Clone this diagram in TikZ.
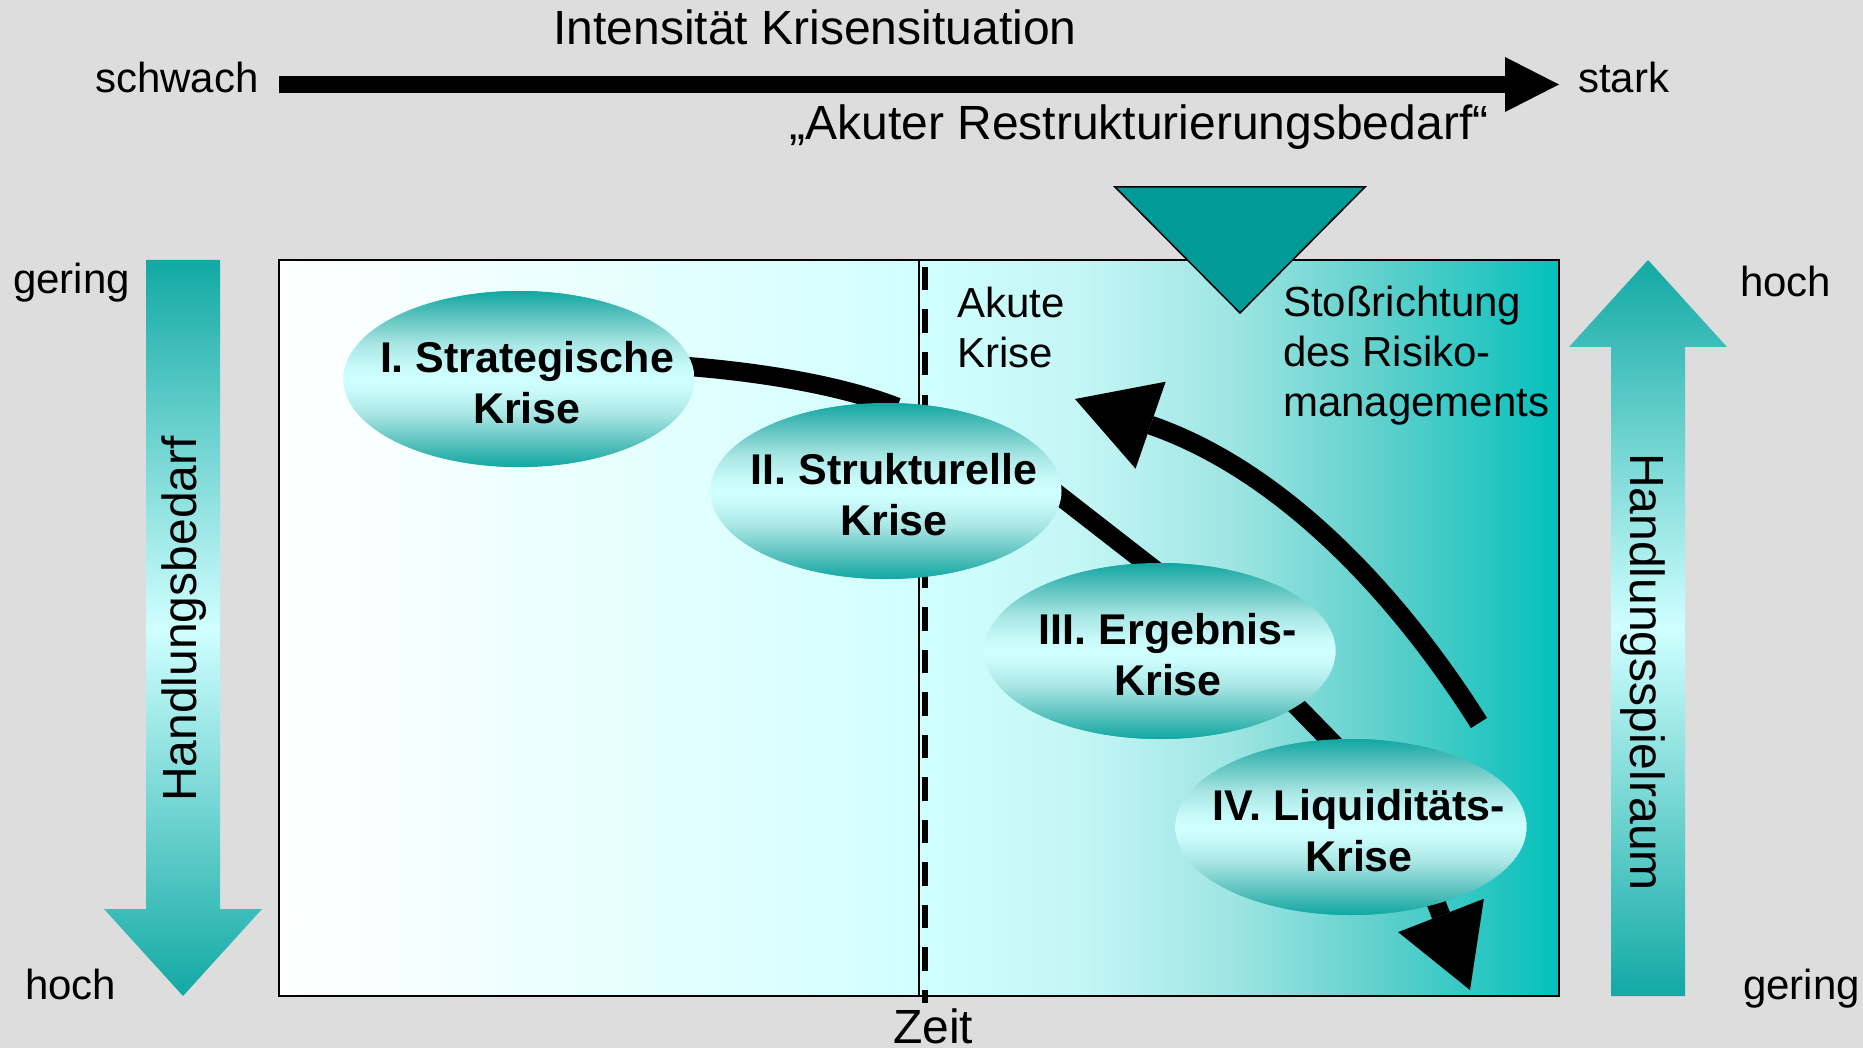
\documentclass[tikz,border=0pt]{standalone}
\usepackage{fontspec}
\setmainfont{Liberation Sans}
\usetikzlibrary{arrows.meta,shapes.geometric}

\definecolor{bggray}{HTML}{DDDDDD}
\definecolor{tealdark}{HTML}{009A97}
\definecolor{tealmid}{HTML}{12A9A4}
\definecolor{icecyan}{HTML}{D0FFFF}
\definecolor{boxA}{HTML}{D6FFFF}
\definecolor{boxB}{HTML}{C4F6F6}
\definecolor{boxC}{HTML}{A0E6E4}
\definecolor{boxD}{HTML}{60D0CC}
\definecolor{boxE}{HTML}{04C0BB}
\definecolor{ellA}{HTML}{10A8A2}
\definecolor{ellB}{HTML}{52BEBA}
\definecolor{ellC}{HTML}{A8E6E4}
\definecolor{ellD}{HTML}{CAFBFB}

% field: white on the left, ice cyan in the middle, teal on the right
\pgfdeclarehorizontalshading{fieldshade}{100bp}{%
  color(0bp)=(white); color(25bp)=(white); color(47.5bp)=(boxA);
  color(50bp)=(icecyan); color(56.25bp)=(boxB); color(62bp)=(boxC);
  color(68bp)=(boxD); color(75bp)=(boxE); color(100bp)=(boxE)}
% crisis bubbles: teal rim, light core
\pgfdeclareverticalshading{bubbleshade}{100bp}{%
  color(0bp)=(ellA); color(25bp)=(ellA); color(31bp)=(ellB);
  color(40bp)=(ellC); color(47bp)=(ellD); color(50bp)=(icecyan);
  color(53bp)=(ellD); color(60bp)=(ellC); color(69bp)=(ellB);
  color(75bp)=(ellA); color(100bp)=(ellA)}
% side scales
\pgfdeclareverticalshading{scaleshade}{100bp}{%
  color(0bp)=(tealmid); color(25bp)=(tealmid); color(50bp)=(icecyan);
  color(75bp)=(tealmid); color(100bp)=(tealmid)}

\tikzset{
  lbl/.style={inner sep=0pt, font=\fontsize{42}{50}\selectfont},
  bigtxt/.style={inner sep=0pt, font=\fontsize{48}{58}\selectfont},
  bubble/.style={ellipse, shading=bubbleshade, minimum width=351pt,
    minimum height=176pt, inner sep=0pt},
  bubbletxt/.style={inner sep=0pt, align=center, xshift=8pt, yshift=-4pt,
    font=\fontsize{43}{51}\selectfont\bfseries},
  conn/.style={line width=19pt, black},
  bigtip/.style={-{Triangle[length=80pt,width=92pt,line width=0pt]}}
}

\begin{document}
\begin{tikzpicture}[x=1pt,y=-1pt]
  % canvas
  \useasboundingbox (0,0) rectangle (1863,1048);
  \fill[bggray] (0,0) rectangle (1863,1048);

  % intensity axis
  \node[bigtxt, anchor=base] (title) at (815,45) {Intensität Krisensituation};
  \node[lbl, anchor=base west] (schwach) at (95,93) {schwach};
  \node[lbl, anchor=base west] (stark) at (1578,93) {stark};
  \coordinate (axisL) at (279,84.5);
  \coordinate (axisR) at (1559,84.5);
  \draw[line width=17pt, -{Triangle[length=54pt,width=55pt,line width=0pt]}] (axisL) -- (axisR);
  \node[bigtxt, anchor=base] (akut) at (1139,140) {„Akuter Restrukturierungsbedarf“};

  % left scale: Handlungsbedarf
  \path[shading=scaleshade] (146,260) -- (220,260) -- (220,909) -- (262,909)
        -- (183,996) -- (104,909) -- (146,909) -- cycle;
  \node[bigtxt, rotate=90] (hb) at (184,619) {Handlungsbedarf};
  \node[lbl, anchor=base west] (geringL) at (13,294) {gering};
  \node[lbl, anchor=base west] (hochL) at (25,999) {hoch};

  % right scale: Handlungsspielraum
  \path[shading=scaleshade] (1611,996) -- (1685,996) -- (1685,347) -- (1727,347)
        -- (1648,260) -- (1569,347) -- (1611,347) -- cycle;
  \node[bigtxt, rotate=-90] (hs) at (1643,672) {Handlungsspielraum};
  \node[lbl, anchor=base west] (hochR) at (1740,297) {hoch};
  \node[lbl, anchor=base west] (geringR) at (1743,999) {gering};

  % time field
  \path[shading=fieldshade] (279,260) rectangle (1559,996);
  \draw[line width=2pt] (279,260) rectangle (1559,996);
  \node[bigtxt, anchor=base] (zeit) at (933,1043) {Zeit};

  % border of the acute crisis
  \draw[line width=1.6pt] (919,260) -- (919,996);
  \draw[line width=6pt, dash pattern=on 23.5pt off 19pt] (925,267) -- (925,1003);

  % thrust of risk management
  \draw[fill=tealdark, line width=1.5pt] (1115,187) -- (1365,187) -- (1240,313) -- cycle;
  \node[lbl, align=left, anchor=north west] (akute) at (957,286.5) {Akute\\Krise};
  \node[lbl, align=left, anchor=north west] (stoss) at (1283,286) {Stoßrichtung\\des Risiko-\\managements};

  % crisis bubbles (anchors for the connectors)
  \node[bubble] (e1) at (519,379) {};
  \node[bubble] (e2) at (886,491) {};
  \node[bubble] (e3) at (1160,651) {};
  \node[bubble] (e4) at (1351,827) {};

  % course of the crisis
  \draw[conn, shorten <=-10pt, shorten >=-12pt] (e1.4) .. controls (760,372) and (840,385) .. (e2.north);
  \draw[conn, shorten <=-12pt, shorten >=-12pt] (e2.-2) -- (e3.99);
  \draw[conn, shorten <=-12pt, shorten >=-12pt] (e3.-22) -- (e4.104);
  \coordinate (liqTip) at (1470,990);
  \draw[conn, bigtip, shorten <=-15pt] (e4.-42) -- (liqTip);
  \coordinate (riskStart) at (1479,723);
  \coordinate (riskTip) at (1075,399);
  \draw[conn, bigtip] (riskStart) .. controls (1395,590) and (1280,470) .. (riskTip);

  % bubbles over the connectors
  \path[shading=bubbleshade] (e1.center) ellipse [x radius=175.5pt, y radius=88pt];
  \path[shading=bubbleshade] (e2.center) ellipse [x radius=175.5pt, y radius=88pt];
  \path[shading=bubbleshade] (e3.center) ellipse [x radius=175.5pt, y radius=88pt];
  \path[shading=bubbleshade] (e4.center) ellipse [x radius=175.5pt, y radius=88pt];
  \node[bubbletxt] (t1) at (e1) {I. Strategische\\Krise};
  \node[bubbletxt] (t2) at (e2) {II. Strukturelle\\Krise};
  \node[bubbletxt] (t3) at (e3) {III. Ergebnis-\\Krise};
  \node[bubbletxt] (t4) at (e4) {IV. Liquiditäts-\\Krise};
\end{tikzpicture}
\end{document}
